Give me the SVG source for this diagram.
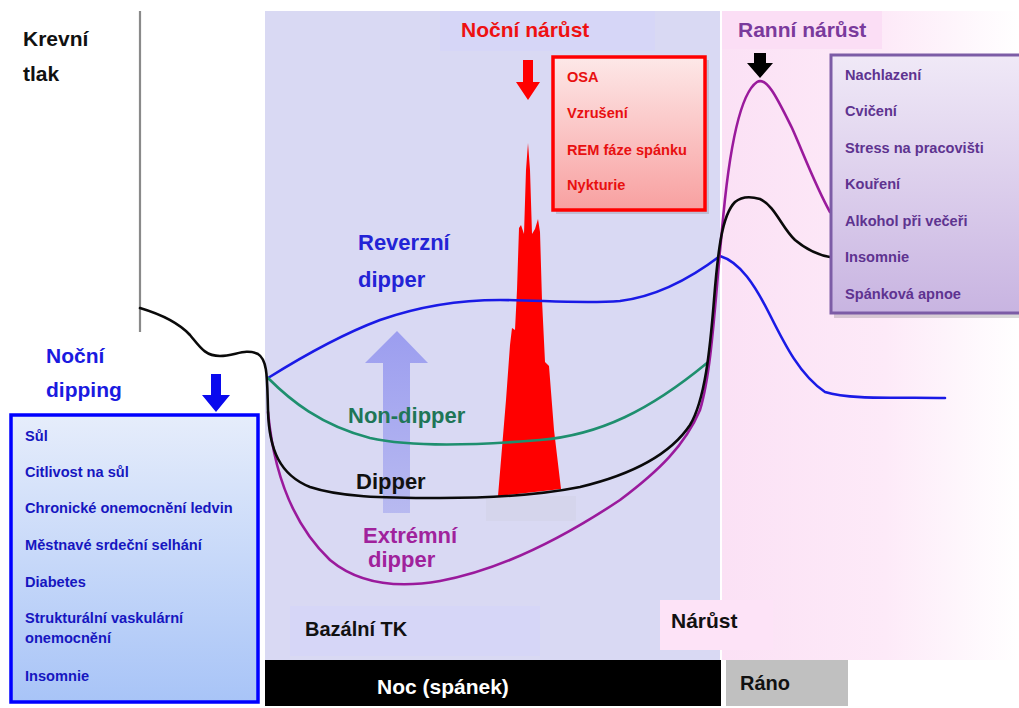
<svg xmlns="http://www.w3.org/2000/svg" width="1019" height="708" viewBox="0 0 1019 708">
<defs>
<style>
text{font-family:"Liberation Sans",Arial,sans-serif;font-weight:bold}
.big{font-size:21px}
.lbl{font-size:22px}
.item{font-size:14.6px}
.curve{fill:none;stroke-width:2.6;stroke-linecap:round;stroke-linejoin:round}
</style>
<linearGradient id="pinkPanel" x1="0" y1="0" x2="1" y2="0">
<stop offset="0" stop-color="#fbe1f5"/><stop offset="0.55" stop-color="#fdeaf8"/><stop offset="1" stop-color="#ffffff"/>
</linearGradient>
<linearGradient id="blueBox" x1="0" y1="0" x2="0" y2="1">
<stop offset="0" stop-color="#e6edfb"/><stop offset="1" stop-color="#a8c4f7"/>
</linearGradient>
<linearGradient id="redBox" x1="0" y1="0" x2="0" y2="1">
<stop offset="0" stop-color="#fde8e8"/><stop offset="1" stop-color="#f8a0a0"/>
</linearGradient>
<linearGradient id="purpleBox" x1="0" y1="0" x2="0" y2="1">
<stop offset="0" stop-color="#f0e9f7"/><stop offset="1" stop-color="#c8b4e1"/>
</linearGradient>
<linearGradient id="bigArrow" x1="0" y1="0" x2="0" y2="1">
<stop offset="0" stop-color="#9597ef"/><stop offset="1" stop-color="#b4b6f0"/>
</linearGradient>
</defs>

<g id="background">
<rect x="0" y="0" width="1019" height="708" fill="#ffffff"/>
<rect x="265" y="11" width="455" height="649" fill="#d9d9f3"/>
<rect x="440" y="11" width="215" height="40" fill="#d6d6f7"/>
<rect x="722" y="11" width="297" height="649" fill="url(#pinkPanel)"/>
<rect x="722" y="11" width="160" height="38" fill="#fbdef5"/>
<rect x="290" y="606" width="250" height="50" fill="#d6d6f7"/>
<rect x="660" y="600" width="113" height="50" fill="#fde3f7"/>
<rect x="486" y="496" width="90" height="25" fill="#d5d5ec"/>
</g>

<g id="axis">
<line x1="140" y1="11" x2="140" y2="332" stroke="#8a8a8a" stroke-width="2.2"/>
<text x="23" y="46" class="big" fill="#111">Krevní</text>
<text x="23" y="81" class="big" fill="#111">tlak</text>
</g>

<g id="big-arrow">
<polygon points="383,513 410,513 410,363 428,363 397,331 365,363 383,363" fill="url(#bigArrow)" opacity="0.9"/>
</g>

<g id="red-spike">
<polygon points="498,496 506,400 510,345 512,328 515,330 517,290 519,228 521,225 524,234 526,170 528,143 530,170 532,234 535,229 538,219 540,232 542,300 545,362 549,366 554,430 561,489" fill="#ff0000"/>
</g>

<g id="curves">
<path class="curve" stroke="#1a1ae6" d="M268,378 C300,358 340,335 380,320 C420,306 460,300 500,300 C540,300 580,304 620,301 C660,296 695,275 720,256 C740,262 755,285 770,315 C785,345 800,375 825,392 C850,400 900,397 945,398"/>
<path class="curve" stroke="#1e8f6e" d="M268,378 C290,400 320,425 370,438 C410,447 480,445 540,440 C600,435 650,410 707,363"/>
<path class="curve" stroke="#9a1a9c" d="M268,412 C273,465 288,520 330,560 C360,585 400,588 440,581 C500,570 560,540 620,500 C660,470 685,445 700,410 C712,370 715,300 722,230 C728,160 738,95 757,82 C767,76 778,100 792,128 C802,150 815,185 830,212"/>
<path class="curve" stroke="#0a0a0a" d="M140,308 C160,314 178,322 190,335 C200,347 205,356 220,356 C235,356 245,348 258,354 C268,360 267,380 268,410 C269,450 280,475 310,487 C340,497 380,498 440,498 C500,498 540,495 580,487 C630,475 670,455 690,425 C705,400 710,350 714,300 C718,250 722,215 735,202 C742,196 750,196 760,199 C775,206 782,228 795,240 C807,250 818,255 830,257"/>
</g>

<g id="curve-labels">
<text x="358" y="250" class="lbl" fill="#2323d6">Reverzní</text>
<text x="358" y="287" class="lbl" fill="#2323d6">dipper</text>
<text x="348" y="423" class="lbl" fill="#1f7657">Non-dipper</text>
<text x="356" y="489" class="lbl" fill="#111">Dipper</text>
<text x="363" y="543" class="lbl" fill="#a0229c">Extrémní</text>
<text x="368" y="567" class="lbl" fill="#a0229c">dipper</text>
</g>

<g id="connectors">
<polygon points="211,374 221,374 221,395 230,395 216,412 202,395 211,395" fill="#0a0aee"/>
<polygon points="523,60 533,60 533,82 540,82 528,100 516,82 523,82" fill="#ff0000"/>
<polygon points="754,53 766,53 766,63 773,63 760,78 747,63 754,63" fill="#000"/>
</g>

<g id="night-dipping">
<text x="46" y="363" class="big" fill="#1a1ae0">Noční</text>
<text x="46" y="397" class="big" fill="#1a1ae0">dipping</text>
<rect x="11" y="415" width="247" height="287" fill="url(#blueBox)" stroke="#0000ff" stroke-width="3.5"/>
<g fill="#1616c0">
<text x="25" y="441" class="item">Sůl</text>
<text x="25" y="477" class="item">Citlivost na sůl</text>
<text x="25" y="513" class="item">Chronické onemocnění ledvin</text>
<text x="25" y="550" class="item">Městnavé srdeční selhání</text>
<text x="25" y="587" class="item">Diabetes</text>
<text x="25" y="623" class="item">Strukturální vaskulární</text>
<text x="25" y="643" class="item">onemocnění</text>
<text x="25" y="681" class="item">Insomnie</text>
</g>
</g>

<g id="night-surge">
<text x="461" y="37" class="big" fill="#ee1111">Noční nárůst</text>
<rect x="556" y="60" width="153" height="154" fill="#000" opacity="0.12"/>
<rect x="553" y="57" width="152" height="153" fill="url(#redBox)" stroke="#ff0000" stroke-width="3.5"/>
<g fill="#e81010">
<text x="567" y="82" class="item">OSA</text>
<text x="567" y="118" class="item">Vzrušení</text>
<text x="567" y="155" class="item">REM fáze spánku</text>
<text x="567" y="190" class="item">Nykturie</text>
</g>
</g>

<g id="morning-surge">
<text x="738" y="37" class="big" fill="#7a3a9c">Ranní nárůst</text>
<rect x="834" y="59" width="200" height="259" fill="#000" opacity="0.15"/>
<rect x="831" y="55" width="200" height="258" fill="url(#purpleBox)" stroke="#7c5ca6" stroke-width="3"/>
<g fill="#5e3390">
<text x="845" y="80" class="item">Nachlazení</text>
<text x="845" y="116" class="item">Cvičení</text>
<text x="845" y="153" class="item">Stress na pracovišti</text>
<text x="845" y="189" class="item">Kouření</text>
<text x="845" y="226" class="item">Alkohol při večeři</text>
<text x="845" y="262" class="item">Insomnie</text>
<text x="845" y="299" class="item">Spánková apnoe</text>
</g>
</g>

<g id="bottom-labels">
<text x="305" y="636" class="big" fill="#111" style="font-size:20px">Bazální TK</text>
<text x="671" y="628" class="big" fill="#111">Nárůst</text>
</g>

<g id="time-bar">
<rect x="265" y="660" width="456" height="46" fill="#000"/>
<text x="377" y="694" class="big" fill="#fff">Noc (spánek)</text>
<rect x="726" y="660" width="122" height="46" fill="#c0c0c0"/>
<text x="740" y="690" class="big" fill="#111" style="font-size:20px">Ráno</text>
</g>
</svg>
